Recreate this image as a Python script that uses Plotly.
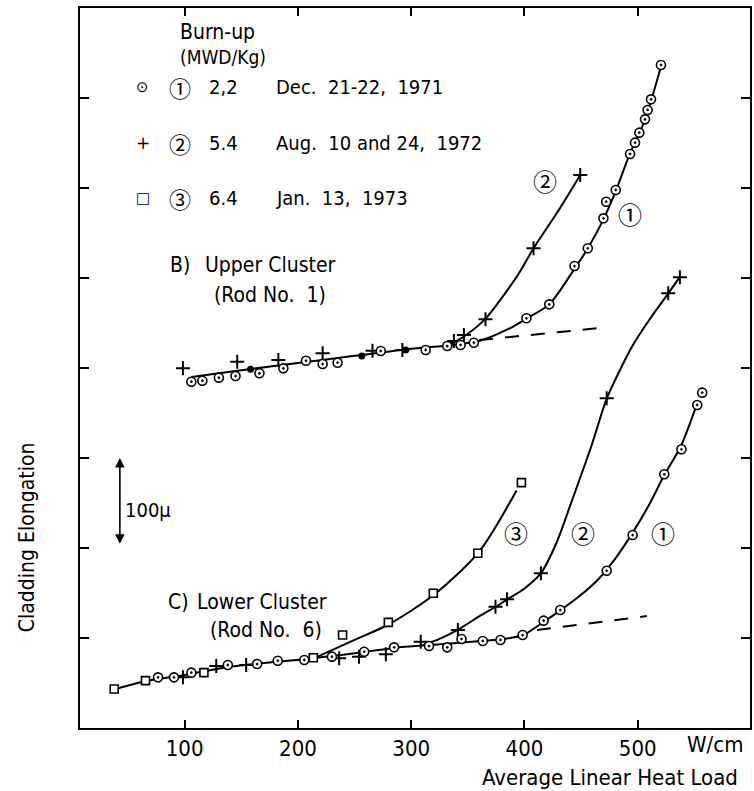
import plotly.graph_objects as go

# ---------------- data ----------------
# Upper cluster (Rod No. 1)
up1_x = [105.9, 115.6, 130.2, 144.9, 166.0, 187.1, 207.1, 221.8, 235.0, 273.1, 312.8, 331.8, 343.6, 355.3,
         401.7, 421.9, 444.2, 455.9, 469.7, 472.1, 480.6, 493.2, 497.6, 501.4, 506.4, 508.7, 511.7, 520.5]
up1_y = [384.8, 385.9, 389.3, 391.1, 394.1, 399.6, 408.1, 404.4, 405.9, 418.9, 420.0, 424.4, 425.6, 428.1,
         455.2, 470.7, 513.3, 533.0, 566.3, 584.8, 597.8, 637.8, 650.4, 661.5, 676.3, 686.7, 698.5, 736.7]
updot_x = [158.1, 256.4, 295.1]
updot_y = [398.5, 413.3, 420.0]
up2_x = [98.5, 146.4, 182.7, 221.8, 265.8, 292.2, 337.7, 346.5, 365.6, 408.0, 449.2]
up2_y = [399.6, 407.0, 408.9, 416.3, 419.3, 420.0, 430.0, 436.7, 454.1, 533.0, 614.4]

# Lower cluster (Rod No. 6)
lo1_x = [76.5, 90.6, 105.9, 138.1, 164.0, 182.2, 205.6, 230.0, 258.5, 284.9, 315.7, 331.8, 344.4, 363.2,
         378.8, 398.4, 416.9, 431.6, 472.6, 495.5, 523.4, 538.6, 552.5, 556.9]
lo1_y = [56.3, 56.3, 61.5, 70.0, 71.1, 74.8, 75.6, 79.3, 84.8, 89.6, 91.1, 89.6, 98.9, 96.7,
         97.8, 103.3, 119.3, 131.1, 174.8, 214.4, 281.9, 309.7, 358.9, 372.6]
lo2_x = [98.5, 127.9, 154.3, 236.4, 253.9, 277.6, 308.4, 341.2, 374.4, 384.6, 414.5, 472.6, 526.9, 537.2]
lo2_y = [56.3, 68.9, 70.0, 77.4, 79.3, 81.9, 95.9, 108.9, 134.8, 143.0, 171.9, 366.3, 483.0, 500.8]
lo3_x = [37.8, 65.4, 117.0, 213.6, 239.4, 279.8, 319.5, 358.8, 397.3]
lo3_y = [43.3, 52.6, 61.5, 78.1, 103.3, 117.4, 149.7, 194.1, 272.6]

# fitted curves
ub_x = [106, 150, 200, 250, 300, 330]
ub_y = [390, 397.5, 405.5, 413.5, 421.5, 424.5]
uc2_x = [330, 340, 350, 365, 380, 395, 408, 430, 449]
uc2_y = [424.5, 430, 438, 454, 478, 505, 533, 575, 614]
uc1_x = [330, 345, 360, 375, 390, 402, 422, 444, 456, 470, 481, 493, 502, 510, 521]
uc1_y = [424.5, 427, 430, 437, 446, 455, 471, 510, 533, 566, 598, 638, 662, 690, 737]
ud_x = [360, 471]
ud_y = [431, 445]

lb_x = [38, 65, 100, 140, 180, 210, 250, 285, 320, 350, 380, 400]
lb_y = [43, 52, 59, 68, 73.5, 77, 83, 89, 92.5, 95.5, 98.5, 103]
lc1_x = [390, 400, 417, 432, 450, 465, 480, 495, 510, 523, 538, 552]
lc1_y = [100.5, 104, 118, 131, 148, 165, 188, 216, 248, 280, 313, 359]
lc2_x = [310, 325, 341, 360, 375, 385, 400, 414.5, 428, 442, 459, 472.6, 484, 495, 511, 527, 537]
lc2_y = [92, 99, 109, 124, 135, 143, 155, 172, 205, 253, 313, 366, 397, 424, 455, 483, 501]
lc3_x = [215, 250, 280, 320, 360, 393]
lc3_y = [78, 98, 115, 148, 196, 264]
ld_x = [411, 508]
ld_y = [109, 124.4]

x_ticks = [100, 200, 300, 400, 500]

FONT = "Liberation Sans Narrow, DejaVu Sans Condensed, Arial Narrow, DejaVu Sans, sans-serif"
CIRC = "Noto Sans CJK JP, DejaVu Sans, sans-serif"

fig = go.Figure()

def curve(xs, ys, dash=None):
    fig.add_trace(go.Scatter(x=xs, y=ys, mode="lines", showlegend=False, hoverinfo="skip",
                             line=dict(color="black", width=2, shape="spline", smoothing=0.8,
                                       dash=dash)))

for cx, cy in [(ub_x, ub_y), (uc2_x, uc2_y), (uc1_x, uc1_y), (lb_x, lb_y),
               (lc1_x, lc1_y), (lc2_x, lc2_y), (lc3_x, lc3_y)]:
    curve(cx, cy)
curve(ud_x, ud_y, dash="14px,12px")
curve(ld_x, ld_y, dash="14px,12px")

circ = dict(symbol="circle-dot", size=9, color="white", line=dict(color="black", width=1.6))
cross = dict(symbol="cross-thin", size=10, line=dict(color="black", width=2))
sq = dict(symbol="square", size=8, color="white", line=dict(color="black", width=1.6))

fig.add_trace(go.Scatter(x=up2_x, y=up2_y, mode="markers", marker=cross, showlegend=False))
fig.add_trace(go.Scatter(x=up1_x, y=up1_y, mode="markers", marker=circ, showlegend=False))
fig.add_trace(go.Scatter(x=updot_x, y=updot_y, mode="markers",
                         marker=dict(symbol="circle", size=7, color="black"), showlegend=False))
fig.add_trace(go.Scatter(x=lo2_x, y=lo2_y, mode="markers", marker=cross, showlegend=False))
fig.add_trace(go.Scatter(x=lo1_x, y=lo1_y, mode="markers", marker=circ, showlegend=False))
fig.add_trace(go.Scatter(x=lo3_x, y=lo3_y, mode="markers", marker=sq, showlegend=False))

L, R, T, B = 80, 752, 8, 728
W, H = 754, 791


def ann(text, px, py, size, xanchor="left", family=FONT, angle=0):
    fig.add_annotation(text=text, x=(px - L) / (R - L), y=(B - py) / (B - T), xref="paper", yref="paper",
                       xanchor=xanchor, yanchor="middle", showarrow=False, textangle=angle,
                       font=dict(family=family, size=size, color="black"))

ann("Burn-up", 178, 32, 21)
ann("(MWD/Kg)", 178, 57, 19)
rows = [("⊙", "①", "2,2", "Dec.  21-22,  1971", 87, 15),
        ("+", "②", "5.4", "Aug.  10 and 24,  1972", 143, 17),
        ("□", "③", "6.4", "Jan.  13,  1973", 198, 15)]
for sym, num, val, date, py, ss in rows:
    ann(sym, 143, py, ss, xanchor="center", family="DejaVu Sans, sans-serif")
    ann(num, 180, py, 22, xanchor="center", family=CIRC)
    ann(val, 207, py, 20)
    ann(date, 275, py, 20)

ann("B)", 168, 265, 21)
ann("Upper Cluster", 203, 265, 21)
ann("(Rod No.  1)", 212, 295, 21)
ann("C)", 166, 602, 21)
ann("Lower Cluster", 195, 602, 21)
ann("(Rod No.  6)", 208, 630, 21)

ann("②", 546, 180, 24, xanchor="center", family=CIRC)
ann("①", 632, 213, 24, xanchor="center", family=CIRC)
ann("③", 517, 532, 24, xanchor="center", family=CIRC)
ann("②", 584, 532, 24, xanchor="center", family=CIRC)
ann("①", 665, 532, 24, xanchor="center", family=CIRC)

ann("100µ", 123, 510, 20)
ann("W/cm", 717, 745, 22, xanchor="center")
ann("Average Linear Heat Load", 742, 777, 22, xanchor="right")
ann("Cladding Elongation", 27, 537, 21, xanchor="center", angle=-90)

# 100 micron scale bar
fig.add_annotation(x=42.8, y=300, ax=42.8, ay=203, xref="x", yref="y", axref="x", ayref="y",
                   text="", showarrow=True, arrowhead=2, arrowside="end+start", arrowsize=1.2,
                   arrowwidth=1.6, arrowcolor="black")

fig.update_layout(
    width=W, height=H, margin=dict(l=L, r=W - R, t=T, b=H - B),
    paper_bgcolor="white", plot_bgcolor="white",
    font=dict(family=FONT, size=22, color="black"),
    showlegend=False,
)
fig.update_xaxes(range=[7.6, 599.1], tickvals=x_ticks, ticks="inside", ticklen=8, tickwidth=1.6,
                 tickcolor="black", showline=True, linewidth=2, linecolor="black", mirror="ticks",
                 showgrid=False, zeroline=False, tickfont=dict(family=FONT, size=22))
fig.update_yaxes(range=[0, 800], dtick=100, tick0=0, ticks="inside", ticklen=9, tickwidth=1.6,
                 tickcolor="black", showline=True, linewidth=2, linecolor="black", mirror="ticks",
                 showgrid=False, zeroline=False, showticklabels=False)

fig.write_html("out.html")
